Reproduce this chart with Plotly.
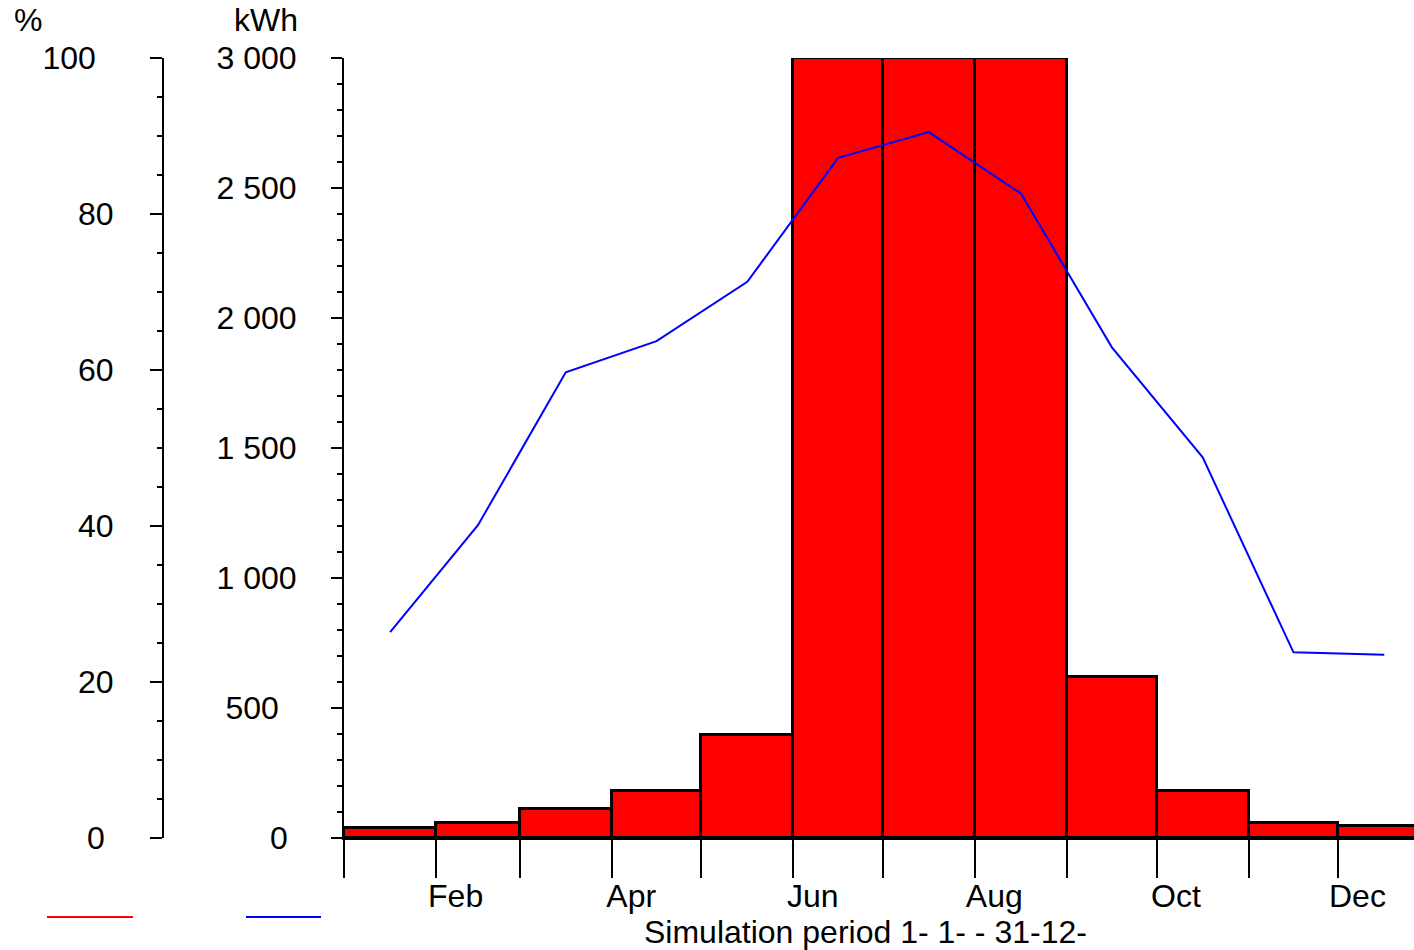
import plotly.graph_objects as go

# Monthly values
months = ["Jan", "Feb", "Mar", "Apr", "May", "Jun",
          "Jul", "Aug", "Sep", "Oct", "Nov", "Dec"]
month_start = [0, 31, 59, 90, 120, 151, 181, 212, 243, 273, 304, 334]
month_days = [31, 28, 31, 30, 31, 30, 31, 31, 30, 31, 30, 31]
energy_kwh = [40, 59, 111, 182, 396, 3000, 3000, 3000, 619, 182, 59, 47]
fraction_pct = [26.4, 40.1, 59.7, 63.7, 71.3, 87.2, 90.5, 82.6, 62.9, 48.8, 23.8, 23.5]

# Axis ticks and labels
kwh_ticks = [0, 500, 1000, 1500, 2000, 2500, 3000]
kwh_ticktext = ["0\u00a0", "500\u00a0\u00a0", "1 000", "1 500", "2 000", "2 500", "3 000"]
kwh_minor = list(range(0, 3001, 100))
pct_ticks = [0, 20, 40, 60, 80, 100]
pct_ticktext = ["0\u00a0", "20", "40", "60", "80", "100\u00a0\u00a0"]
pct_minor = list(range(0, 101, 5))
label_months = ["Feb", "Apr", "Jun", "Aug", "Oct", "Dec"]
label_offset_days = 6.5

W, H = 1414, 950
FONT = "Liberation Sans, Arial, sans-serif"
FS = 32

mid = [s + d / 2 for s, d in zip(month_start, month_days)]
label_pos = [month_start[months.index(m)] + label_offset_days for m in label_months]

x_range = [0, 359.5]
x_dom = [344 / W, 1.0]
y_dom = [(H - 838) / H, (H - 58) / H]

fig = go.Figure()
fig.add_trace(go.Bar(
    x=mid, y=energy_kwh, width=month_days,
    marker=dict(color="#FF0000", line=dict(color="black", width=3)),
    xaxis="x", yaxis="y", hoverinfo="skip",
))
fig.add_trace(go.Scatter(
    x=mid, y=fraction_pct, mode="lines",
    line=dict(color="#0000FF", width=2),
    xaxis="x2", yaxis="y2", hoverinfo="skip",
))

axis_common = dict(showgrid=False, zeroline=False, automargin=False,
                   tickfont=dict(family=FONT, size=FS, color="black"))

fig.update_layout(
    width=W, height=H,
    margin=dict(l=0, r=0, t=0, b=0),
    paper_bgcolor="white", plot_bgcolor="white",
    showlegend=False, bargap=0,
    xaxis=dict(domain=x_dom, range=x_range, anchor="y",
               showline=True, linecolor="black", linewidth=2,
               tickmode="array", tickvals=month_start, showticklabels=False,
               ticks="outside", ticklen=38, tickwidth=2, tickcolor="black",
               **axis_common),
    xaxis2=dict(domain=x_dom, range=x_range, overlaying="x", anchor="y",
                side="bottom", showline=False, ticks="",
                tickmode="array", tickvals=label_pos, ticktext=label_months,
                ticklabelstandoff=36, **axis_common),
    yaxis=dict(domain=y_dom, range=[0, 3000], anchor="x", side="left",
               showline=True, linecolor="black", linewidth=2,
               tickmode="array", tickvals=kwh_ticks, ticktext=kwh_ticktext,
               ticks="outside", ticklen=11, tickwidth=2, tickcolor="black",
               ticklabelstandoff=28,
               minor=dict(tickmode="array", tickvals=kwh_minor, ticks="outside",
                          ticklen=5, tickwidth=2, tickcolor="black", showgrid=False),
               **axis_common),
    yaxis2=dict(domain=y_dom, range=[0, 100], overlaying="y", anchor="free",
                position=163 / W, side="left",
                showline=True, linecolor="black", linewidth=2,
                tickmode="array", tickvals=pct_ticks, ticktext=pct_ticktext,
                ticks="outside", ticklen=12, tickwidth=2, tickcolor="black",
                ticklabelstandoff=30,
                minor=dict(tickmode="array", tickvals=pct_minor, ticks="outside",
                           ticklen=5, tickwidth=2, tickcolor="black", showgrid=False),
                **axis_common),
    annotations=[
        dict(text="%", x=28 / W, y=(H - 20) / H, xref="paper", yref="paper",
             showarrow=False, xanchor="center", yanchor="middle",
             font=dict(family=FONT, size=FS, color="black")),
        dict(text="kWh", x=266 / W, y=(H - 20) / H, xref="paper", yref="paper",
             showarrow=False, xanchor="center", yanchor="middle",
             font=dict(family=FONT, size=FS, color="black")),
        dict(text="Simulation period 1- 1- - 31-12-", x=865 / W, y=(H - 932) / H,
             xref="paper", yref="paper", showarrow=False,
             xanchor="center", yanchor="middle",
             font=dict(family=FONT, size=FS, color="black")),
    ],
    shapes=[
        dict(type="line", xref="paper", yref="paper",
             x0=47 / W, x1=133 / W, y0=(H - 917) / H, y1=(H - 917) / H,
             line=dict(color="#FF0000", width=2)),
        dict(type="line", xref="paper", yref="paper",
             x0=246 / W, x1=321 / W, y0=(H - 917) / H, y1=(H - 917) / H,
             line=dict(color="#0000FF", width=2)),
    ],
)

fig.write_html("out.html")
